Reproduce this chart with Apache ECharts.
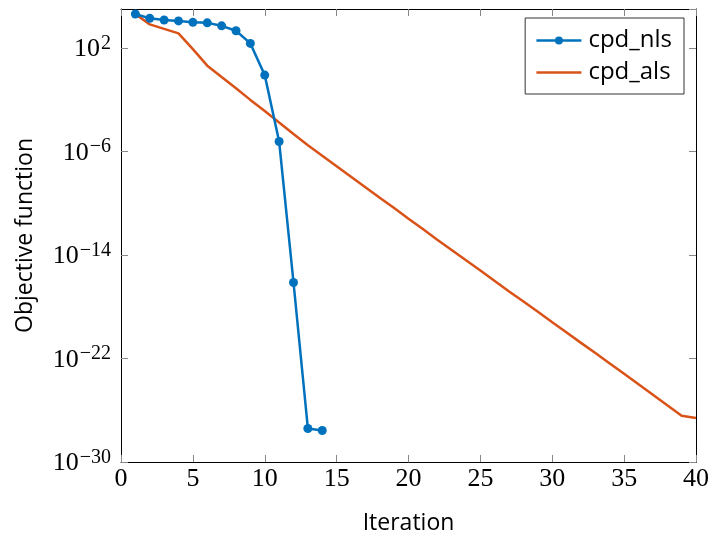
<!DOCTYPE html>
<html>
<head>
<meta charset="utf-8">
<script src="https://cdn.jsdelivr.net/npm/echarts@6/dist/echarts.min.js"></script>
<style>
  html, body { margin: 0; padding: 0; background: #fff; }
  #main { width: 710px; height: 533px; }
</style>
</head>
<body>
<div id="main"></div>
<script>
// Convergence of the objective function per iteration
const iterationsNls = [1, 2, 3, 4, 5, 6, 7, 8, 9, 10, 11, 12, 13, 14];
const objectiveNls = [4.1e4, 1.9e4, 1.4e4, 1.2e4, 9.3e3, 8.5e3, 5.0e3, 2.1e3, 2.2e2,
  7.8e-1, 5.8e-6, 7.4e-17, 3.9e-28, 2.7e-28];

const iterationsAls = [1, 2, 3, 4, 5, 6, 7, 8, 9, 10, 11, 12, 13, 14, 15, 16, 17, 18, 19, 20,
  21, 22, 23, 24, 25, 26, 27, 28, 29, 30, 31, 32, 33, 34, 35, 36, 37, 38, 39, 40];
const objectiveAls = [4.1e4, 6.5e3, 2.9e3, 1.3e3, 79, 4.2, 0.55, 7.4e-2, 9.5e-3, 1.3e-3,
  1.7e-4, 2.2e-5, 3.0e-6, 4.6e-7, 7.1e-8, 1.1e-8, 1.7e-9, 2.6e-10, 4.2e-11, 6.3e-12,
  1.0e-12, 1.5e-13, 2.4e-14, 3.8e-15, 6.2e-16, 9.8e-17, 1.5e-17, 2.5e-18, 4.0e-19, 6.3e-20,
  1.0e-20, 1.6e-21, 2.6e-22, 4.1e-23, 6.5e-24, 1.0e-24, 1.6e-25, 2.4e-26, 3.8e-27, 2.5e-27];

// y axis runs in decades: 1e-30 .. 1e5, labelled every 8 decades
const yMinExponent = -30;
const yMaxExponent = 5;
const yTickStep = 8;
const yTickExponents = [-30, -22, -14, -6, 2];

const seriesNames = ['cpd_nls', 'cpd_als'];
const colors = ['#0072BD', '#D95319'];

const serifFont = 'Liberation Serif';
const sansFont = 'Open Sans';

// points placed on the decade (log10) scale of the y axis
function logPairs(xs, ys) {
  return xs.map((x, i) => [x, Math.log10(ys[i])]);
}

function powLabel(e) {
  const k = Math.round(e);
  if (!yTickExponents.includes(k)) return '';
  const sup = (k < 0 ? '\u2212' : '') + Math.abs(k);
  return '{b|10}{s|' + sup + '}';
}

const tickStyle = { show: true, inside: true, length: 7, lineStyle: { color: '#888', width: 1 } };
const lineStyle = { show: true, onZero: false, lineStyle: { color: '#000', width: 1 } };

const chart = echarts.init(document.getElementById('main'), null, { renderer: 'canvas' });

chart.setOption({
  animation: false,
  backgroundColor: '#fff',
  grid: { left: 121, right: 14, top: 9, bottom: 71, containLabel: false, outerBoundsMode: 'none' },
  legend: {
    orient: 'vertical',
    right: 26,
    top: 18,
    data: [
      { name: seriesNames[0] },
      { name: seriesNames[1], itemStyle: { opacity: 0 } }
    ],
    itemWidth: 45,
    itemHeight: 10,
    itemGap: 7,
    padding: [10, 12, 9, 10],
    borderColor: '#333',
    borderWidth: 1,
    borderRadius: 0,
    backgroundColor: '#fff',
    lineStyle: { width: 2.5 },
    textStyle: { fontFamily: sansFont, fontSize: 24, color: '#000', padding: [0, 0, 0, 2], lineHeight: 25 }
  },
  xAxis: [
    {
      type: 'value', min: 0, max: 40, interval: 5,
      name: 'Iteration', nameLocation: 'middle', nameGap: 50,
      nameTextStyle: { fontFamily: sansFont, fontSize: 23, color: '#000' },
      axisLine: lineStyle, axisTick: tickStyle, splitLine: { show: false },
      axisLabel: { fontFamily: serifFont, fontSize: 26, color: '#000', margin: 4 }
    },
    {
      type: 'value', position: 'top', min: 0, max: 40, interval: 5,
      axisLine: lineStyle, axisTick: tickStyle, splitLine: { show: false },
      axisLabel: { show: false }
    }
  ],
  yAxis: [
    {
      type: 'value', min: yMinExponent, max: yMaxExponent, interval: yTickStep,
      name: 'Objective function', nameLocation: 'middle', nameGap: 84, nameRotate: 90,
      nameTextStyle: { fontFamily: sansFont, fontSize: 23, color: '#000' },
      axisLine: lineStyle, axisTick: tickStyle, splitLine: { show: false },
      axisLabel: {
        margin: 10,
        showMaxLabel: false,
        formatter: powLabel,
        rich: {
          b: { fontFamily: serifFont, fontSize: 26, color: '#000', verticalAlign: 'bottom' },
          s: { fontFamily: serifFont, fontSize: 20, color: '#000', verticalAlign: 'bottom', padding: [0, 0, 9, 1] }
        }
      }
    },
    {
      type: 'value', min: yMinExponent, max: yMaxExponent, interval: yTickStep, position: 'right',
      axisLine: lineStyle, axisTick: tickStyle, splitLine: { show: false },
      axisLabel: { show: false }
    }
  ],
  series: [
    {
      name: seriesNames[0], type: 'line', xAxisIndex: 0, yAxisIndex: 0,
      data: logPairs(iterationsNls, objectiveNls),
      color: colors[0], symbol: 'circle', symbolSize: 9, showSymbol: true,
      lineStyle: { width: 2.5, color: colors[0] },
      itemStyle: { color: colors[0] },
      z: 3
    },
    {
      name: seriesNames[1], type: 'line', xAxisIndex: 0, yAxisIndex: 0,
      data: logPairs(iterationsAls, objectiveAls),
      color: colors[1], symbol: 'none', showSymbol: false,
      lineStyle: { width: 2.5, color: colors[1] },
      z: 2
    }
  ]
});
</script>
</body>
</html>
